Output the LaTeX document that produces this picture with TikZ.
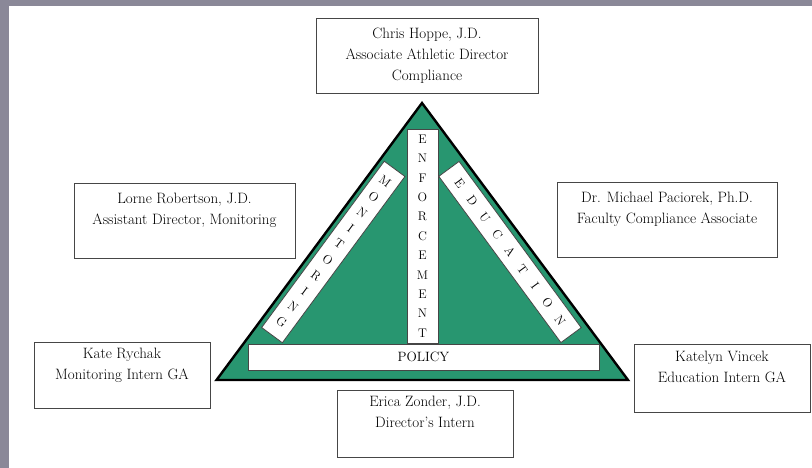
\documentclass[tikz,border=0pt]{standalone}
\definecolor{framegray}{RGB}{138,136,152}
\definecolor{trigreen}{RGB}{40,150,112}
\definecolor{boxline}{RGB}{70,70,70}
\newcommand\boxlines[3]{\strut #1\\\strut #2\\\strut #3}
\newcommand\spaced[1]{\makebox[21.2pt]{#1}}
\begin{document}
\begin{tikzpicture}[x=1pt,y=-1pt,
  person/.style={draw=boxline, line width=0.9pt, fill=white, align=center,
    inner sep=0pt, font=\fontsize{15}{21}\selectfont},
  band/.style={draw=boxline, line width=0.8pt, fill=white, inner sep=0pt,
    align=center},
  tri/.style={draw=black, line width=2.4pt, fill=trigreen, line join=miter}]
\useasboundingbox (0,0) rectangle (812,468);
\fill[framegray] (0,0) rectangle (812,468);
\fill[white] (9,6) rectangle (812,468);
% triangle
\coordinate (apex) at (422,103);
\coordinate (bl) at (216.5,380);
\coordinate (br) at (628,380);
\draw[tri] (apex) -- (bl) -- (br) -- cycle;
% bands
\node[band, minimum width=31pt, minimum height=214pt,
  font=\fontsize{12.5}{19.4}\selectfont] (enf) at (422.5,236)
  {E\\N\\F\\O\\R\\C\\E\\M\\E\\N\\T};
\node[band, minimum width=351pt, minimum height=26pt,
  font=\fontsize{13.5}{16}\selectfont] (pol) at (423.5,357) {POLICY};
\node[band, minimum width=25.7pt, minimum height=206.6pt, rotate=-36.4,
  font=\fontsize{12.5}{19.4}\selectfont] (mon) at (333.3,252)
  {M\\O\\N\\I\\T\\O\\R\\I\\N\\G};
\node[band, minimum width=206.3pt, minimum height=25.2pt, rotate=-53.7,
  font=\fontsize{12.5}{14}\selectfont] (edu) at (510,252)
  {\spaced{E}\spaced{D}\spaced{U}\spaced{C}\spaced{A}\spaced{T}\spaced{I}\spaced{O}\spaced{N}};
% people
\node[person, minimum width=222pt, minimum height=75pt] (chris) at (427,55.5)
  {\boxlines{Chris Hoppe, J.D.}{Associate Athletic Director}{Compliance}};
\node[person, minimum width=221pt, minimum height=75pt] (lorne) at (184.5,220.5)
  {\boxlines{Lorne Robertson, J.D.}{Assistant Director, Monitoring}{}};
\node[person, minimum width=220pt, minimum height=75pt] (mich) at (667,219.5)
  {\boxlines{Dr. Michael Paciorek, Ph.D.}{Faculty Compliance Associate}{}};
\node[person, minimum width=176pt, minimum height=66pt] (kate) at (122,375)
  {\boxlines{Kate Rychak}{Monitoring Intern GA}{}};
\node[person, minimum width=176pt, minimum height=68pt] (katelyn) at (722,378)
  {\boxlines{Katelyn Vincek}{Education Intern GA}{}};
\node[person, minimum width=176pt, minimum height=67pt] (erica) at (425,423.5)
  {\boxlines{Erica Zonder, J.D.}{Director's Intern}{}};
\end{tikzpicture}
\end{document}
